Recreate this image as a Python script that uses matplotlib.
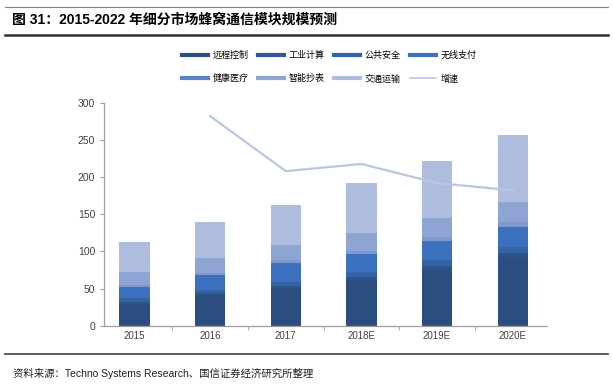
import numpy as np
import matplotlib
matplotlib.use("Agg")
import matplotlib.pyplot as plt
from matplotlib.lines import Line2D

plt.rcParams['font.family'] = ['Liberation Sans', 'Noto Sans CJK SC', 'DejaVu Sans']

# ── data ──────────────────────────────────────────────────────────────────────
years = ["2015", "2016", "2017", "2018E", "2019E", "2020E"]
series_names = ["远程控制", "工业计算", "公共安全", "无线支付", "健康医疗", "智能抄表", "交通运输"]
remote_ctrl = [29, 41, 51, 62, 76, 92]
industrial  = [3, 3, 3, 4, 5, 6]
public_sec  = [5, 4, 5, 6, 7, 8]
wireless    = [15, 20, 25, 25, 26, 27]
health      = [3, 3, 4, 4, 5, 6]
metering    = [18, 20, 21, 24, 26, 28]
transport   = [39, 48, 53, 67, 77, 89]
growth      = [None, 0.243, 0.174, 0.183, 0.159, 0.150]
growth_name = "增速"

colors = ["#2C4D80", "#2E548C", "#3463A6", "#3B71BE", "#7F99CF", "#8EA4D3", "#AEBCDD"]
legend_colors = ["#2C4D80", "#2F5893", "#3462A6", "#3B71BE", "#5A84C6", "#8EA4D3", "#AEBCDD"]
line_color = "#BAC7E2"

series = [remote_ctrl, industrial, public_sec, wireless, health, metering, transport]

# ── figure ────────────────────────────────────────────────────────────────────
fig = plt.figure(figsize=(6.13, 3.87), dpi=100)
ax = fig.add_axes([0.170, 0.158, 0.722, 0.577])

x = np.arange(len(years))
bottom = np.zeros(len(years))
for vals, c in zip(series, colors):
    ax.bar(x, vals, width=0.40, bottom=bottom, color=c, linewidth=0)
    bottom += np.array(vals)

ax.set_ylim(0, 300)
ax.set_yticks(np.arange(0, 301, 50))
ax.set_xlim(-0.40, 5.45)
ax.set_xticks(x)
ax.set_xticklabels(years)
ax.set_xticks(np.arange(0.5, 5.5, 1), minor=True)
ax.tick_params(axis='x', which='major', length=0, labelsize=7, colors="#404040", pad=4)
ax.tick_params(axis='x', which='minor', length=3, color="#A0A0A0")
ax.tick_params(axis='y', length=3, color="#A0A0A0", labelsize=7.5, labelcolor="#404040")
for s in ["top", "right"]:
    ax.spines[s].set_visible(False)
for s in ["left", "bottom"]:
    ax.spines[s].set_color("#A0A0A0")
    ax.spines[s].set_linewidth(0.9)

# growth line on hidden secondary axis
ax2 = ax.twinx()
gx = [i for i, g in enumerate(growth) if g is not None]
gy = [g for g in growth if g is not None]
ax2.plot(gx, gy, color=line_color, linewidth=1.6)
ax2.set_ylim(-0.02, 0.26)
ax2.axis("off")

# legend (row-major order for 2 x 4 layout)
handles = [Line2D([], [], color=c, linewidth=3) for c in legend_colors]
handles.append(Line2D([], [], color=line_color, linewidth=1.2))
labels = series_names + [growth_name]
order = [0, 4, 1, 5, 2, 6, 3, 7]
fig.legend([handles[i] for i in order], [labels[i] for i in order],
           ncol=4, loc="upper left", bbox_to_anchor=(0.283, 0.890),
           frameon=False, handlelength=2.9, handletextpad=0.5,
           columnspacing=1.05, labelspacing=1.6,
           prop={'family': ['Noto Sans CJK SC'], 'size': 6.5})

# title, rules, source
fig.text(0.020, 0.948, "图 31：2015-2022 年细分市场蜂窝通信模块规模预测",
         fontsize=10, fontweight="bold", va="center", ha="left",
         family=['Liberation Sans', 'Noto Sans CJK SC'])
fig.add_artist(Line2D([0.008, 0.992], [0.982, 0.982], color="#808080", linewidth=0.8))
fig.add_artist(Line2D([0.008, 0.992], [0.910, 0.910], color="#303030", linewidth=1.8))
fig.add_artist(Line2D([0.008, 0.992], [0.085, 0.085], color="#505050", linewidth=1.3))
fig.text(0.021, 0.036, "资料来源：Techno Systems Research、国信证券经济研究所整理",
         fontsize=7.5, va="center", ha="left", color="#202020",
         family=['Liberation Sans', 'Noto Sans CJK SC'])

fig.savefig("out.png", dpi=100)
